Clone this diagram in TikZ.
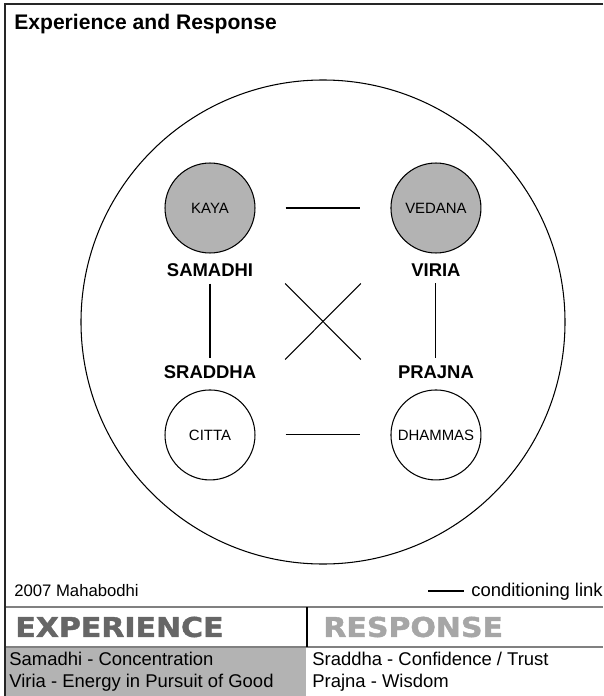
\documentclass[tikz,border=0pt]{standalone}
\usepackage{fontspec}
\setmainfont{Liberation Sans}
\newfontfamily\bandfont{DejaVu Sans}[BoldFeatures={FakeBold=1.5}]
\usepackage{xcolor}
\usetikzlibrary{positioning}
\definecolor{boxgray}{HTML}{B3B3B3}
\definecolor{rulegray}{HTML}{808080}
\definecolor{expgray}{HTML}{666666}
\definecolor{respgray}{HTML}{A6A6A6}
\tikzstyle{sphere}=[circle, draw, line width=0.6pt, minimum size=1.8cm, inner sep=0pt, font=\fontsize{8.5}{10}\selectfont]
\tikzstyle{body}=[fill=boxgray]
\tikzstyle{factor}=[inner sep=1pt, font=\bfseries\fontsize{10.5}{12}\selectfont]
\tikzstyle{link}=[draw, line width=0.6pt]
\tikzstyle{band}=[inner sep=0pt, anchor=west, xscale=1.1, transform shape, font=\bandfont\bfseries\fontsize{15.5}{17}\selectfont]
\tikzstyle{gloss}=[inner sep=0pt, anchor=base west, font=\fontsize{10.5}{12}\selectfont]

\begin{document}
\begin{tikzpicture}[x=0.02cm, y=-0.02cm, on grid]
    \useasboundingbox (0,0) rectangle (603,696);

    \node[anchor=west, inner sep=0pt, font=\bfseries\fontsize{12}{14}\selectfont] (title) at (14,24) {Experience and Response};
    \draw[line width=0.6pt] (323,322) circle (242);

    \node[sphere, body] (kaya)                          at (210,208) {KAYA};
    \node[sphere, body] (vedana)  [right = 4.52cm of kaya]   {VEDANA};
    \node[sphere]       (citta)   [below = 4.54cm of kaya]   {CITTA};
    \node[sphere]       (dhammas) [right = 4.52cm of citta]  {DHAMMAS};

    \node[factor] (samadhi) [below = 1.24cm of kaya]    {SAMADHI};
    \node[factor] (viria)   [below = 1.24cm of vedana]  {VIRIA};
    \node[factor] (sraddha) [above = 1.26cm of citta]   {SRADDHA};
    \node[factor] (prajna)  [above = 1.26cm of dhammas] {PRAJNA};

    \draw[link, shorten <=0.6cm, shorten >=0.6cm] (kaya) -- (vedana);
    \draw[link, shorten <=0.6cm, shorten >=0.6cm] (citta) -- (dhammas);
    \draw[link, shorten <=0.1cm, shorten >=0.1cm] (samadhi) -- (sraddha);
    \draw[link, shorten <=0.1cm, shorten >=0.1cm] (viria) -- (prajna);
    \draw[link, shorten <=1.22cm, shorten >=1.22cm] (kaya) -- (dhammas);
    \draw[link, shorten <=1.22cm, shorten >=1.22cm] (vedana) -- (citta);

    % footer and key
    \node[gloss, font=\fontsize{9.5}{11}\selectfont] (credit) at (14,596) {2007 Mahabodhi};
    \coordinate (keyA) at (428,591);
    \coordinate (keyB) at (464,591);
    \draw[link] (keyA) -- (keyB);
    \node[gloss] (key) at (471,596) {conditioning link};

    \fill[boxgray] (6,647) rectangle (306,696);
    \draw[rulegray, line width=1.2pt] (5,607) -- (603,607);
    \draw[rulegray, line width=1.2pt] (5,647) -- (603,647);
    \draw[line width=1.7pt] (307,607) -- (307,647);
    \draw[line width=0.9pt, black!85] (603,4) -- (5,4) -- (5,696);

    \node[band, text=expgray]  (experience) at (15,627)  {EXPERIENCE};
    \node[band, text=respgray] (response)   at (323,627) {RESPONSE};

    \node[gloss] (samadhiG) at (9,665)   {Samadhi - Concentration};
    \node[gloss] (viriaG)   at (9,687)   {Viria - Energy in Pursuit of Good};
    \node[gloss] (sraddhaG) at (312,665) {Sraddha - Confidence / Trust};
    \node[gloss] (prajnaG)  at (312,687) {Prajna - Wisdom};
\end{tikzpicture}
\end{document}
